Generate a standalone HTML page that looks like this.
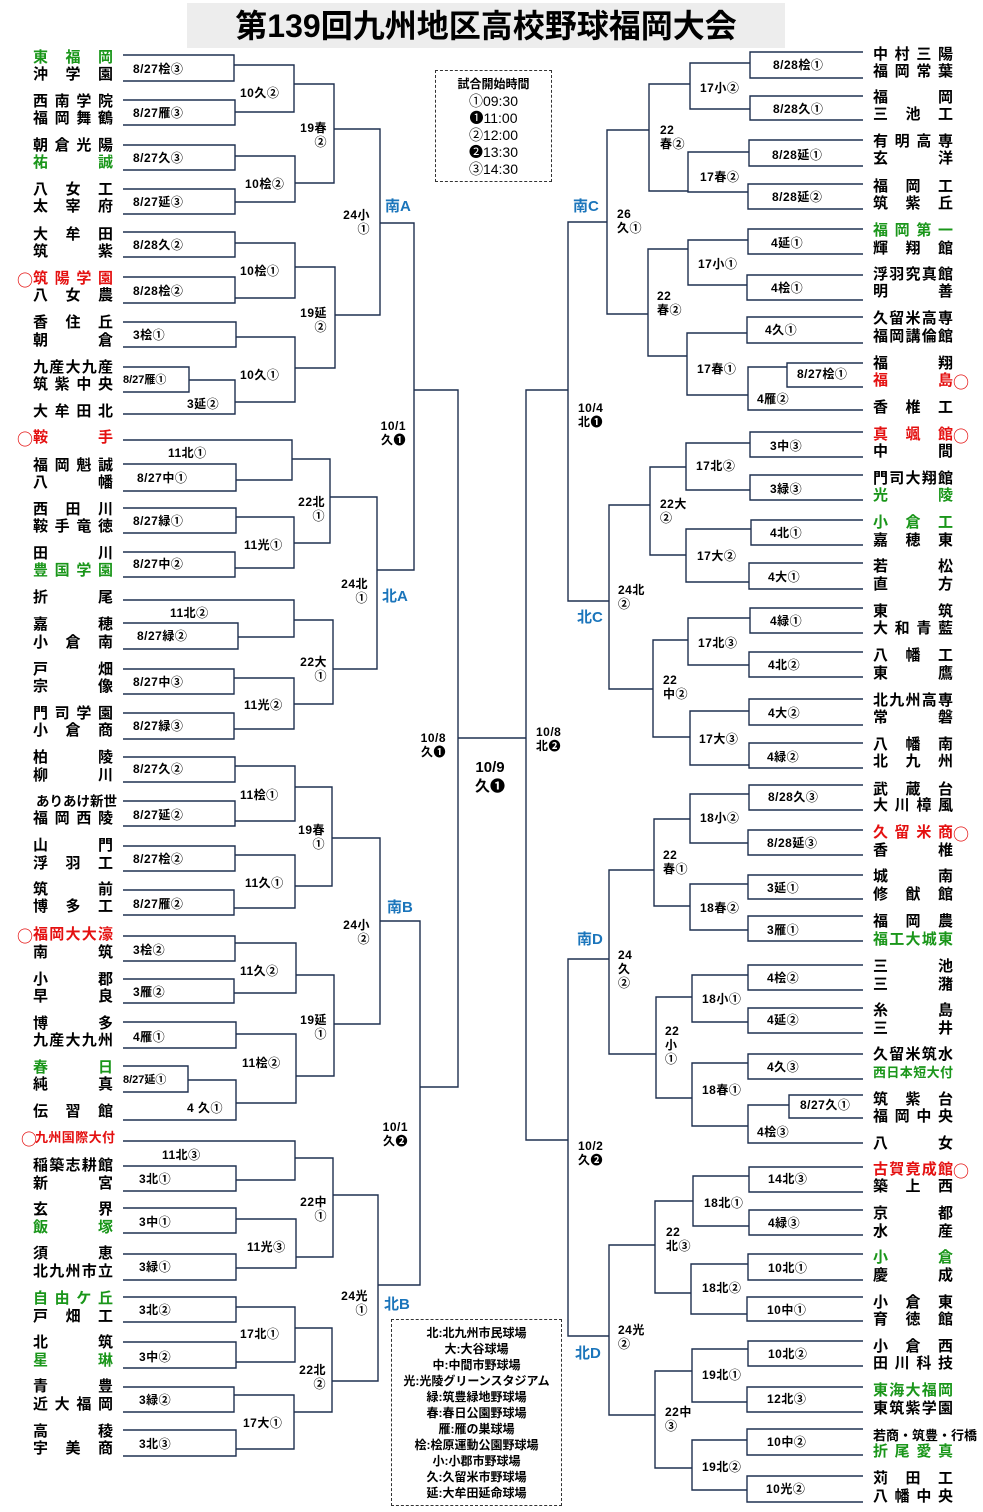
<!DOCTYPE html>
<html><head><meta charset="utf-8">
<style>
*{margin:0;padding:0;box-sizing:border-box}
body{width:983px;height:1512px;background:#fff;position:relative;overflow:hidden;font-family:"Liberation Sans","Noto Sans CJK JP",sans-serif;color:#000}
svg{position:absolute;left:0;top:0}
.n{position:absolute;width:80px;height:18px;line-height:18px;font-size:15px;font-weight:bold;white-space:nowrap;text-align:justify;text-align-last:justify}
.L{left:33px}.R{left:873px}
.g{color:#1a961a}.r{color:#e41010}
.o{position:absolute;font-size:16px;font-weight:bold;color:#e41010;line-height:18px;font-family:"Noto Sans CJK JP",sans-serif}
.l{position:absolute;font-size:12px;line-height:14px;white-space:nowrap;letter-spacing:.5px;font-weight:bold}
.b{position:absolute;font-size:15px;font-weight:bold;color:#1b75bb;line-height:18px}
.c{position:absolute;text-align:center;white-space:nowrap}
</style></head><body>
<div style="position:absolute;left:187px;top:3px;width:598px;height:45px;background:#ededed"></div>
<div class="c" style="left:187px;top:6px;width:598px;font-size:32px;font-weight:bold;line-height:40px">第139回九州地区高校野球福岡大会</div>
<div style="position:absolute;left:435px;top:70px;width:117px;height:112px;border:1px dashed #333"></div>
<div class="c" style="left:435px;top:76px;width:117px;font-size:12px;font-weight:bold;line-height:16px">試合開始時間</div>
<div class="c" style="left:435px;top:93px;width:117px;font-size:14px;line-height:17px">①09:30<br>❶11:00<br>②12:00<br>❷13:30<br>③14:30</div>
<div style="position:absolute;left:391px;top:1319px;width:171px;height:187px;border:1px dashed #333"></div>
<div class="c" style="left:391px;top:1325px;width:171px;font-size:12px;font-weight:bold;line-height:16px">北:北九州市民球場<br>大:大谷球場<br>中:中間市野球場<br>光:光陵グリーンスタジアム<br>緑:筑豊緑地野球場<br>春:春日公園野球場<br>雁:雁の巣球場<br>桧:桧原運動公園野球場<br>小:小郡市野球場<br>久:久留米市野球場<br>延:大牟田延命球場</div>

<svg width="983" height="1512" fill="none" stroke="#1f3050" stroke-width="1.4">
<path d="M123 55H234V81H123M123 100H235V125H123M123 145H235V170H123M123 189H235V214H123M123 232H235V257H123M123 277H235V303H123M123 322H236V347H123M123 367H189V392H123M189 380H235V414H123
M234 65H294V112H235M235 156H295V202H235M235 243H295V298H235M236 337H295V402H235M294 84H334V183H295M295 267H335V368H295M334 129H380V315H335M380 223H414V570H377
M123 440H292V480H236M123 464H236V491H123M123 508H236V533H123M123 552H235V577H123M236 517H294V568H235M292 459H330V543H294M123 600H294V637H238M123 623H238V649H123M123 669H234V694H123M123 713H234V739H123M234 678H294V729H234M294 620H333V704H294M330 497H377V669H333
M414 390H458V1087H420
M123 757H235V782H123M123 801H235V826H123M235 766H295V821H235M123 846H235V871H123M123 890H234V915H123M235 855H295V908H234M295 787H332V886H295M123 936H235V961H123M123 979H234V1003H123M235 943H296V993H234M123 1022H236V1048H123M123 1066H188V1092H123M188 1080H236V1120H123M236 1034H296V1103H236M296 975H334V1076H296M332 838H380V1024H334M380 921H420V1285H378
M123 1141H295V1180H236M123 1166H236V1191H123M123 1208H236V1233H123M123 1254H236V1280H123M236 1219H296V1268H236M295 1158H333V1257H296M123 1297H236V1322H123M123 1342H236V1368H123M236 1307H295V1362H236M123 1387H234V1412H123M123 1430H236V1456H123M234 1395H294V1449H236M295 1328H332V1412H294M333 1195H378V1381H332
M458 738H526M568 390H526V1140H568
M863 52H750V78H863M863 96H750V120H863M750 63H690V109H750M863 140H749V166H863M863 184H748V209H863M749 152H688V192H748M690 84H649V191H688M863 229H748V254H863M863 275H747V300H863M748 240H688V285H747M863 317H747V343H863M863 363H787V387H863M787 367H748V410H863M747 333H687V395H748M688 249H648V356H687M649 130H607V314H648M607 222H568V601H609
M863 432H750V457H863M863 475H750V500H863M750 443H686V490H750M863 520H751V545H863M863 563H749V589H863M751 529H686V582H749M686 467H650V555H686M863 608H750V633H863M863 652H749V677H863M750 618H688V665H749M863 699H749V725H863M863 743H749V768H863M749 711H690V765H749M688 640H653V737H690M650 505H609V689H653
M863 785H749V810H863M863 830H748V855H863M749 794H690V843H748M863 875H748V899H863M863 916H748V941H863M748 884H690V930H748M690 819H654V906H690M863 965H748V990H863M863 1008H748V1033H863M748 975H692V1022H748M863 1054H748V1079H863M863 1095H789V1118H863M789 1105H748V1143H863M748 1063H692V1126H748M692 997H656V1098H692M654 870H609V1054H656M609 959H568V1336H609
M863 1167H749V1192H863M863 1210H749V1235H863M749 1176H693V1226H749M863 1254H748V1280H863M863 1297H747V1321H863M748 1264H691V1314H747M693 1201H655V1293H691M863 1341H748V1366H863M863 1387H747V1412H863M748 1349H692V1402H747M863 1429H747V1455H863M863 1476H747V1502H863M747 1440H692V1490H747M692 1371H655V1468H692M655 1245H609V1415H655"/>
</svg>

<!-- left names -->
<div class="n L g" style="top:49px">東 福 岡</div>
<div class="n L" style="top:66px">沖 学 園</div>
<div class="n L" style="top:93px">西 南 学 院</div>
<div class="n L" style="top:110px">福 岡 舞 鶴</div>
<div class="n L" style="top:137px">朝 倉 光 陽</div>
<div class="n L g" style="top:154px">祐 誠</div>
<div class="n L" style="top:181px">八 女 工</div>
<div class="n L" style="top:198px">太 宰 府</div>
<div class="n L" style="top:226px">大 牟 田</div>
<div class="n L" style="top:243px">筑 紫</div>
<div class="o" style="left:17px;top:270px">○</div><div class="n L r" style="top:270px">筑 陽 学 園</div>
<div class="n L" style="top:287px">八 女 農</div>
<div class="n L" style="top:314px">香 住 丘</div>
<div class="n L" style="top:332px">朝 倉</div>
<div class="n L" style="top:359px">九産大九産</div>
<div class="n L" style="top:376px">筑 紫 中 央</div>
<div class="n L" style="top:403px">大 牟 田 北</div>
<div class="o" style="left:17px;top:429px">○</div><div class="n L r" style="top:429px">鞍 手</div>
<div class="n L" style="top:457px">福 岡 魁 誠</div>
<div class="n L" style="top:474px">八 幡</div>
<div class="n L" style="top:501px">西 田 川</div>
<div class="n L" style="top:518px">鞍 手 竜 徳</div>
<div class="n L" style="top:545px">田 川</div>
<div class="n L g" style="top:562px">豊 国 学 園</div>
<div class="n L" style="top:589px">折 尾</div>
<div class="n L" style="top:616px">嘉 穂</div>
<div class="n L" style="top:634px">小 倉 南</div>
<div class="n L" style="top:661px">戸 畑</div>
<div class="n L" style="top:678px">宗 像</div>
<div class="n L" style="top:705px">門 司 学 園</div>
<div class="n L" style="top:722px">小 倉 商</div>
<div class="n L" style="top:749px">柏 陵</div>
<div class="n L" style="top:767px">柳 川</div>
<div class="n L" style="top:793px;left:36px;font-size:13.5px">ありあけ新世</div>
<div class="n L" style="top:810px">福 岡 西 陵</div>
<div class="n L" style="top:837px">山 門</div>
<div class="n L" style="top:855px">浮 羽 工</div>
<div class="n L" style="top:881px">筑 前</div>
<div class="n L" style="top:898px">博 多 工</div>
<div class="o" style="left:17px;top:926px">○</div><div class="n L r" style="top:926px">福岡大大濠</div>
<div class="n L" style="top:944px">南 筑</div>
<div class="n L" style="top:971px">小 郡</div>
<div class="n L" style="top:988px">早 良</div>
<div class="n L" style="top:1015px">博 多</div>
<div class="n L" style="top:1032px">九産大九州</div>
<div class="n L g" style="top:1059px">春 日</div>
<div class="n L" style="top:1076px">純 真</div>
<div class="n L" style="top:1103px">伝 習 館</div>
<div class="o" style="left:21px;top:1129px">○</div><div class="n L r" style="top:1129px;left:35px;font-size:13px">九州国際大付</div>
<div class="n L" style="top:1157px">稲築志耕館</div>
<div class="n L" style="top:1175px">新 宮</div>
<div class="n L" style="top:1201px">玄 界</div>
<div class="n L g" style="top:1219px">飯 塚</div>
<div class="n L" style="top:1245px">須 恵</div>
<div class="n L" style="top:1263px">北九州市立</div>
<div class="n L g" style="top:1290px">自 由 ケ 丘</div>
<div class="n L" style="top:1308px">戸 畑 工</div>
<div class="n L" style="top:1334px">北 筑</div>
<div class="n L g" style="top:1352px">星 琳</div>
<div class="n L" style="top:1378px">青 豊</div>
<div class="n L" style="top:1396px">近 大 福 岡</div>
<div class="n L" style="top:1423px">高 稜</div>
<div class="n L" style="top:1440px">宇 美 商</div>

<!-- right names -->
<div class="n R" style="top:46px">中 村 三 陽</div>
<div class="n R" style="top:63px">福 岡 常 葉</div>
<div class="n R" style="top:89px">福 岡</div>
<div class="n R" style="top:106px">三 池 工</div>
<div class="n R" style="top:133px">有 明 高 専</div>
<div class="n R" style="top:150px">玄 洋</div>
<div class="n R" style="top:178px">福 岡 工</div>
<div class="n R" style="top:195px">筑 紫 丘</div>
<div class="n R g" style="top:222px">福 岡 第 一</div>
<div class="n R" style="top:240px">輝 翔 館</div>
<div class="n R" style="top:266px">浮羽究真館</div>
<div class="n R" style="top:283px">明 善</div>
<div class="n R" style="top:310px">久留米高専</div>
<div class="n R" style="top:328px">福岡講倫館</div>
<div class="n R" style="top:355px">福 翔</div>
<div class="n R r" style="top:372px">福 島</div><div class="o" style="left:953px;top:372px">○</div>
<div class="n R" style="top:399px">香 椎 工</div>
<div class="n R r" style="top:426px">真 颯 館</div><div class="o" style="left:953px;top:426px">○</div>
<div class="n R" style="top:443px">中 間</div>
<div class="n R" style="top:470px">門司大翔館</div>
<div class="n R g" style="top:487px">光 陵</div>
<div class="n R g" style="top:514px">小 倉 工</div>
<div class="n R" style="top:532px">嘉 穂 東</div>
<div class="n R" style="top:558px">若 松</div>
<div class="n R" style="top:576px">直 方</div>
<div class="n R" style="top:603px">東 筑</div>
<div class="n R" style="top:620px">大 和 青 藍</div>
<div class="n R" style="top:647px">八 幡 工</div>
<div class="n R" style="top:665px">東 鷹</div>
<div class="n R" style="top:692px">北九州高専</div>
<div class="n R" style="top:709px">常 磐</div>
<div class="n R" style="top:736px">八 幡 南</div>
<div class="n R" style="top:753px">北 九 州</div>
<div class="n R" style="top:781px">武 蔵 台</div>
<div class="n R" style="top:797px">大 川 樟 風</div>
<div class="n R r" style="top:824px">久 留 米 商</div><div class="o" style="left:953px;top:824px">○</div>
<div class="n R" style="top:842px">香 椎</div>
<div class="n R" style="top:868px">城 南</div>
<div class="n R" style="top:886px">修 猷 館</div>
<div class="n R" style="top:913px">福 岡 農</div>
<div class="n R g" style="top:931px">福工大城東</div>
<div class="n R" style="top:958px">三 池</div>
<div class="n R" style="top:976px">三 潴</div>
<div class="n R" style="top:1002px">糸 島</div>
<div class="n R" style="top:1020px">三 井</div>
<div class="n R" style="top:1046px">久留米筑水</div>
<div class="n R g" style="top:1064px;font-size:13px">西日本短大付</div>
<div class="n R" style="top:1091px">筑 紫 台</div>
<div class="n R" style="top:1108px">福 岡 中 央</div>
<div class="n R" style="top:1135px">八 女</div>
<div class="n R r" style="top:1161px">古賀竟成館</div><div class="o" style="left:953px;top:1161px">○</div>
<div class="n R" style="top:1178px">築 上 西</div>
<div class="n R" style="top:1205px">京 都</div>
<div class="n R" style="top:1223px">水 産</div>
<div class="n R g" style="top:1249px">小 倉</div>
<div class="n R" style="top:1267px">慶 成</div>
<div class="n R" style="top:1294px">小 倉 東</div>
<div class="n R" style="top:1311px">育 徳 館</div>
<div class="n R" style="top:1338px">小 倉 西</div>
<div class="n R" style="top:1355px">田 川 科 技</div>
<div class="n R g" style="top:1382px">東海大福岡</div>
<div class="n R" style="top:1400px">東筑紫学園</div>
<div class="n R" style="top:1427px;width:100px;font-size:13px;text-align-last:left">若商・筑豊・行橋</div>
<div class="n R g" style="top:1443px">折 尾 愛 真</div>
<div class="n R" style="top:1470px">苅 田 工</div>
<div class="n R" style="top:1488px">八 幡 中 央</div>

<!-- left labels -->
<div class="l" style="left:133px;top:62px">8/27桧③</div>
<div class="l" style="left:133px;top:106px">8/27雁③</div>
<div class="l" style="left:133px;top:151px">8/27久③</div>
<div class="l" style="left:133px;top:195px">8/27延③</div>
<div class="l" style="left:133px;top:238px">8/28久②</div>
<div class="l" style="left:133px;top:284px">8/28桧②</div>
<div class="l" style="left:133px;top:328px">3桧①</div>
<div class="l" style="left:123px;top:373px;font-size:11px;letter-spacing:0">8/27雁①</div>
<div class="l" style="left:187px;top:397px">3延②</div>
<div class="l" style="left:137px;top:471px">8/27中①</div>
<div class="l" style="left:133px;top:514px">8/27緑①</div>
<div class="l" style="left:133px;top:557px">8/27中②</div>
<div class="l" style="left:137px;top:629px">8/27緑②</div>
<div class="l" style="left:133px;top:675px">8/27中③</div>
<div class="l" style="left:133px;top:719px">8/27緑③</div>
<div class="l" style="left:133px;top:762px">8/27久②</div>
<div class="l" style="left:133px;top:808px">8/27延②</div>
<div class="l" style="left:133px;top:852px">8/27桧②</div>
<div class="l" style="left:133px;top:897px">8/27雁②</div>
<div class="l" style="left:133px;top:943px">3桧②</div>
<div class="l" style="left:133px;top:985px">3雁②</div>
<div class="l" style="left:133px;top:1030px">4雁①</div>
<div class="l" style="left:123px;top:1073px;font-size:11px;letter-spacing:0">8/27延①</div>
<div class="l" style="left:187px;top:1101px">4 久①</div>
<div class="l" style="left:139px;top:1172px">3北①</div>
<div class="l" style="left:139px;top:1215px">3中①</div>
<div class="l" style="left:139px;top:1260px">3緑①</div>
<div class="l" style="left:139px;top:1303px">3北②</div>
<div class="l" style="left:139px;top:1350px">3中②</div>
<div class="l" style="left:139px;top:1393px">3緑②</div>
<div class="l" style="left:139px;top:1437px">3北③</div>
<div class="l" style="left:168px;top:446px">11北①</div>
<div class="l" style="left:170px;top:606px">11北②</div>
<div class="l" style="left:162px;top:1148px">11北③</div>
<div class="l" style="left:240px;top:86px">10久②</div>
<div class="l" style="left:245px;top:177px">10桧②</div>
<div class="l" style="left:240px;top:264px">10桧①</div>
<div class="l" style="left:240px;top:368px">10久①</div>
<div class="l" style="left:244px;top:538px">11光①</div>
<div class="l" style="left:244px;top:698px">11光②</div>
<div class="l" style="left:240px;top:788px">11桧①</div>
<div class="l" style="left:245px;top:876px">11久①</div>
<div class="l" style="left:240px;top:964px">11久②</div>
<div class="l" style="left:242px;top:1056px">11桧②</div>
<div class="l" style="left:247px;top:1240px">11光③</div>
<div class="l" style="left:240px;top:1327px">17北①</div>
<div class="l" style="left:243px;top:1416px">17大①</div>
<div class="l" style="left:297px;top:121px;text-align:right;width:30px">19春<br>②</div>
<div class="l" style="left:297px;top:306px;text-align:right;width:30px">19延<br>②</div>
<div class="l" style="left:295px;top:495px;text-align:right;width:30px">22北<br>①</div>
<div class="l" style="left:297px;top:655px;text-align:right;width:30px">22大<br>①</div>
<div class="l" style="left:295px;top:823px;text-align:right;width:30px">19春<br>①</div>
<div class="l" style="left:297px;top:1013px;text-align:right;width:30px">19延<br>①</div>
<div class="l" style="left:297px;top:1195px;text-align:right;width:30px">22中<br>①</div>
<div class="l" style="left:296px;top:1363px;text-align:right;width:30px">22北<br>②</div>
<div class="l" style="left:340px;top:208px;text-align:right;width:30px">24小<br>①</div>
<div class="l" style="left:338px;top:577px;text-align:right;width:30px">24北<br>①</div>
<div class="l" style="left:340px;top:918px;text-align:right;width:30px">24小<br>②</div>
<div class="l" style="left:338px;top:1289px;text-align:right;width:30px">24光<br>①</div>
<div class="b" style="left:385px;top:198px">南A</div>
<div class="b" style="left:382px;top:588px">北A</div>
<div class="b" style="left:387px;top:899px">南B</div>
<div class="b" style="left:384px;top:1296px">北B</div>
<div class="l" style="left:374px;top:419px;text-align:right;width:32px">10/1<br>久❶</div>
<div class="l" style="left:414px;top:731px;text-align:right;width:32px">10/8<br>久❶</div>
<div class="l" style="left:376px;top:1120px;text-align:right;width:32px">10/1<br>久❷</div>
<div class="c" style="left:460px;top:758px;width:60px;font-size:15px;line-height:19px;font-weight:bold">10/9<br>久❶</div>
<div class="l" style="left:578px;top:401px">10/4<br>北❶</div>
<div class="l" style="left:536px;top:725px">10/8<br>北❷</div>
<div class="l" style="left:578px;top:1139px">10/2<br>久❷</div>
<div class="b" style="left:573px;top:198px">南C</div>
<div class="b" style="left:577px;top:609px">北C</div>
<div class="b" style="left:577px;top:931px">南D</div>
<div class="b" style="left:575px;top:1345px">北D</div>

<!-- right labels -->
<div class="l" style="left:773px;top:58px">8/28桧①</div>
<div class="l" style="left:773px;top:102px">8/28久①</div>
<div class="l" style="left:772px;top:148px">8/28延①</div>
<div class="l" style="left:772px;top:190px">8/28延②</div>
<div class="l" style="left:771px;top:236px">4延①</div>
<div class="l" style="left:771px;top:281px">4桧①</div>
<div class="l" style="left:765px;top:323px">4久①</div>
<div class="l" style="left:797px;top:367px">8/27桧①</div>
<div class="l" style="left:757px;top:392px">4雁②</div>
<div class="l" style="left:770px;top:439px">3中③</div>
<div class="l" style="left:770px;top:482px">3緑③</div>
<div class="l" style="left:770px;top:526px">4北①</div>
<div class="l" style="left:768px;top:570px">4大①</div>
<div class="l" style="left:770px;top:614px">4緑①</div>
<div class="l" style="left:768px;top:658px">4北②</div>
<div class="l" style="left:768px;top:706px">4大②</div>
<div class="l" style="left:767px;top:750px">4緑②</div>
<div class="l" style="left:768px;top:790px">8/28久③</div>
<div class="l" style="left:767px;top:836px">8/28延③</div>
<div class="l" style="left:767px;top:881px">3延①</div>
<div class="l" style="left:767px;top:923px">3雁①</div>
<div class="l" style="left:767px;top:971px">4桧②</div>
<div class="l" style="left:767px;top:1013px">4延②</div>
<div class="l" style="left:767px;top:1060px">4久③</div>
<div class="l" style="left:800px;top:1098px">8/27久①</div>
<div class="l" style="left:757px;top:1125px">4桧③</div>
<div class="l" style="left:768px;top:1172px">14北③</div>
<div class="l" style="left:768px;top:1216px">4緑③</div>
<div class="l" style="left:768px;top:1261px">10北①</div>
<div class="l" style="left:767px;top:1303px">10中①</div>
<div class="l" style="left:768px;top:1347px">10北②</div>
<div class="l" style="left:767px;top:1392px">12北③</div>
<div class="l" style="left:767px;top:1435px">10中②</div>
<div class="l" style="left:766px;top:1482px">10光②</div>
<div class="l" style="left:700px;top:81px">17小②</div>
<div class="l" style="left:700px;top:170px">17春②</div>
<div class="l" style="left:698px;top:257px">17小①</div>
<div class="l" style="left:697px;top:362px">17春①</div>
<div class="l" style="left:696px;top:459px">17北②</div>
<div class="l" style="left:697px;top:549px">17大②</div>
<div class="l" style="left:698px;top:636px">17北③</div>
<div class="l" style="left:699px;top:732px">17大③</div>
<div class="l" style="left:700px;top:811px">18小②</div>
<div class="l" style="left:700px;top:901px">18春②</div>
<div class="l" style="left:702px;top:992px">18小①</div>
<div class="l" style="left:702px;top:1083px">18春①</div>
<div class="l" style="left:704px;top:1196px">18北①</div>
<div class="l" style="left:702px;top:1281px">18北②</div>
<div class="l" style="left:702px;top:1368px">19北①</div>
<div class="l" style="left:702px;top:1460px">19北②</div>
<div class="l" style="left:660px;top:123px">22<br>春②</div>
<div class="l" style="left:657px;top:289px">22<br>春②</div>
<div class="l" style="left:660px;top:497px">22大<br>②</div>
<div class="l" style="left:663px;top:673px">22<br>中②</div>
<div class="l" style="left:663px;top:848px">22<br>春①</div>
<div class="l" style="left:665px;top:1024px">22<br>小<br>①</div>
<div class="l" style="left:666px;top:1225px">22<br>北③</div>
<div class="l" style="left:665px;top:1405px">22中<br>③</div>
<div class="l" style="left:617px;top:207px">26<br>久①</div>
<div class="l" style="left:618px;top:583px">24北<br>②</div>
<div class="l" style="left:618px;top:948px">24<br>久<br>②</div>
<div class="l" style="left:618px;top:1323px">24光<br>②</div>
</body></html>
